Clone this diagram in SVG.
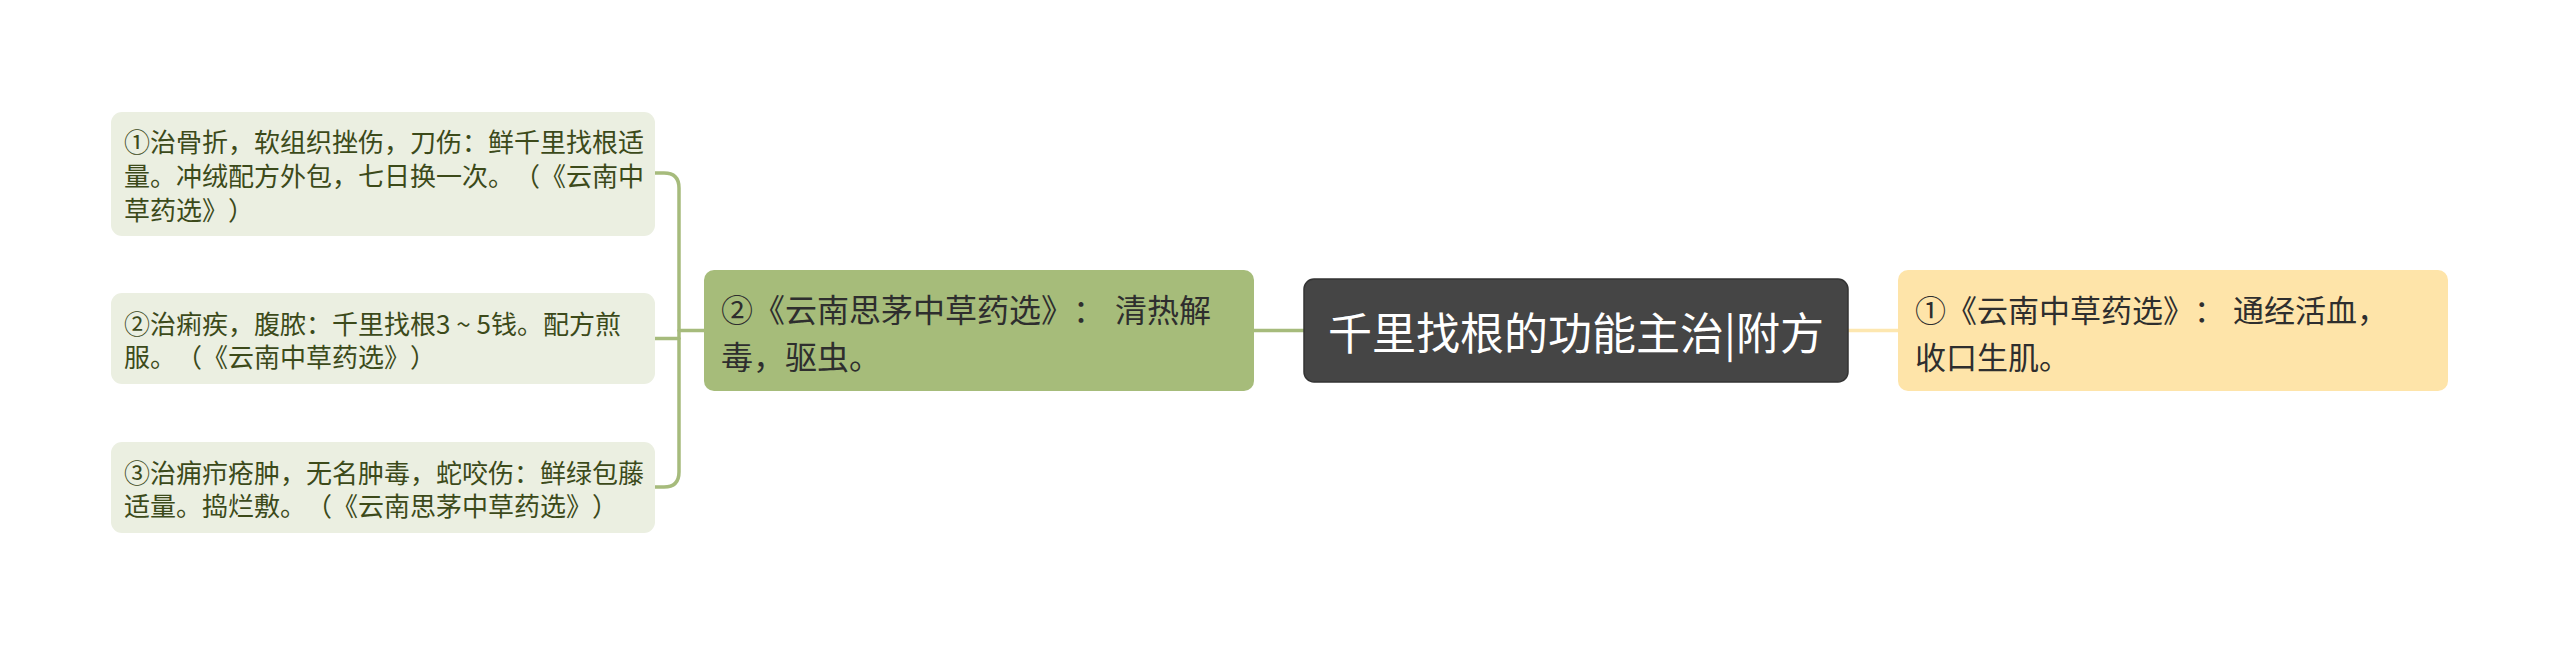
<svg xmlns="http://www.w3.org/2000/svg" width="2560" height="645" viewBox="0 0 2560 645">
<style>
text{font-family:"Noto Sans CJK SC","Noto Sans",sans-serif;dominant-baseline:central;text-spacing-trim:space-all;font-kerning:none}
.leaf rect{fill:#ebefe1}
.leaf text{font-size:26px;fill:#3c4a1a}
.mid text{font-size:31px;fill:#2e2e2e}
.con{fill:none;stroke-width:3.5;stroke-linecap:round}
</style>
<rect width="2560" height="645" fill="#ffffff"/>
<g id="connectors">
<path class="con" stroke="#a6bb7c" d="M655,173 H664 Q679,173 679,188 V472 Q679,487 664,487 H655"/>
<path class="con" stroke="#a6bb7c" d="M655,338.5 H679"/>
<path class="con" stroke="#a6bb7c" d="M679,330.5 H704"/>
<path class="con" stroke="#a6bb7c" d="M1254,330.5 H1304"/>
<path class="con" stroke="#fde7b0" d="M1848,330.5 H1898"/>
</g>
<g id="leaf1" class="leaf">
<rect x="111" y="112" width="544" height="124" rx="11"/>
<text x="124" y="140">①治骨折，软组织挫伤，刀伤：鲜千里找根适</text>
<text x="124" y="174">量。冲绒配方外包，七日换一次。（《云南中</text>
<text x="124" y="208">草药选》）</text>
</g>
<g id="leaf2" class="leaf">
<rect x="111" y="293" width="544" height="91" rx="11"/>
<text x="124" y="322">②治痢疾，腹脓：千里找根3 ~ 5钱。配方煎</text>
<text x="124" y="355.5">服。（《云南中草药选》）</text>
</g>
<g id="leaf3" class="leaf">
<rect x="111" y="442" width="544" height="91" rx="11"/>
<text x="124" y="471">③治痈疖疮肿，无名肿毒，蛇咬伤：鲜绿包藤</text>
<text x="124" y="504.5">适量。捣烂敷。（《云南思茅中草药选》）</text>
</g>
<g id="node-green" class="mid">
<rect x="704" y="270" width="550" height="121" rx="10" fill="#a6bc7a"/>
<text x="721" y="308" style="font-size:32px">②《云南思茅中草药选》：<tspan dx="10">清热解</tspan></text>
<text x="721" y="355" style="font-size:32px">毒，驱虫。</text>
</g>
<g id="node-center">
<rect x="1304" y="279" width="544" height="103" rx="10" fill="#454545" stroke="#333333" stroke-width="1.5"/>
<text x="1576" y="331" text-anchor="middle" font-size="44" fill="#ffffff">千里找根的功能主治|附方</text>
</g>
<g id="node-yellow" class="mid">
<rect x="1898" y="270" width="550" height="121" rx="10" fill="#fee4a9"/>
<text x="1915" y="308">①《云南中草药选》：<tspan dx="8">通经活血，</tspan></text>
<text x="1915" y="355">收口生肌。</text>
</g>
</svg>
